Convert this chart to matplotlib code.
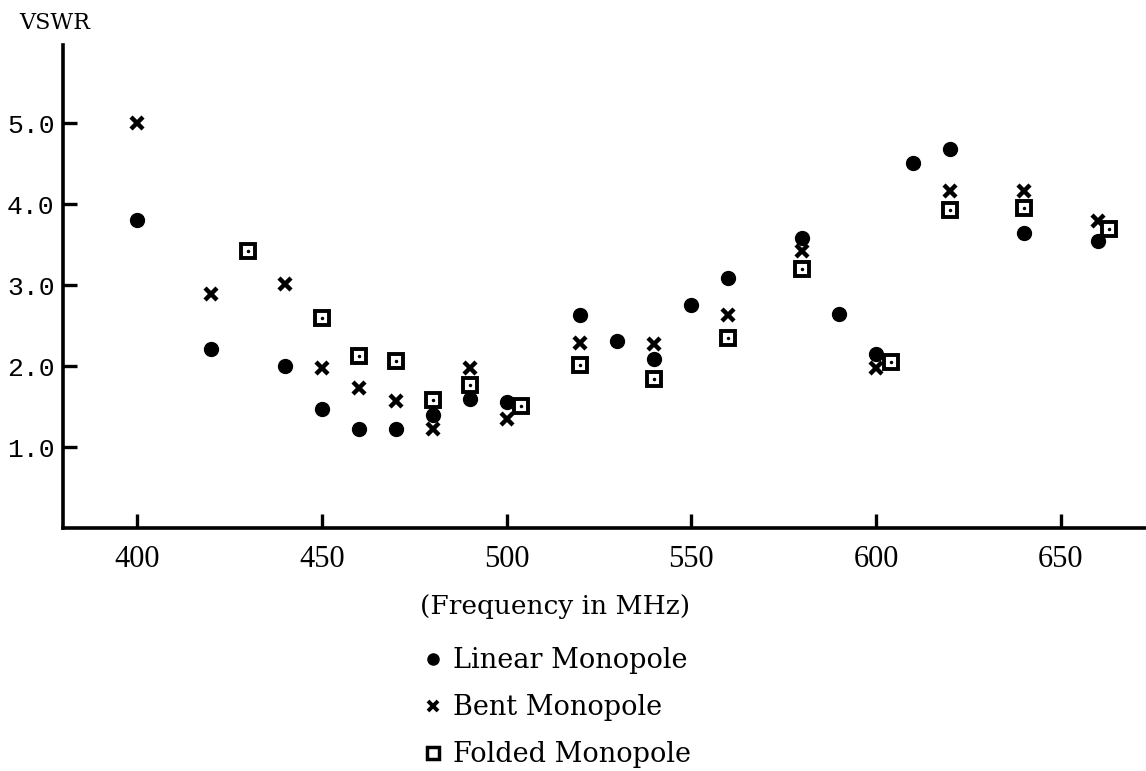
import matplotlib.pyplot as plt
from matplotlib.lines import Line2D

# VSWR vs frequency for three monopole types
linear_freq = [400, 420, 440, 450, 460, 470, 480, 490, 500, 520, 530, 540, 550,
               560, 580, 590, 600, 610, 620, 640, 660]
linear_vswr = [3.80, 2.21, 2.00, 1.47, 1.23, 1.23, 1.40, 1.60, 1.56, 2.63, 2.31,
               2.09, 2.76, 3.09, 3.58, 2.65, 2.15, 4.51, 4.68, 3.64, 3.54]

bent_freq = [400, 420, 440, 450, 460, 470, 480, 490, 500, 520, 540, 560, 580,
             600, 620, 640, 660]
bent_vswr = [5.00, 2.89, 3.01, 1.98, 1.73, 1.57, 1.23, 1.98, 1.35, 2.29, 2.27,
             2.63, 3.42, 1.98, 4.16, 4.16, 3.79]

folded_freq = [430, 450, 460, 470, 480, 490, 504, 520, 540, 560, 580, 604, 620,
               640, 663]
folded_vswr = [3.42, 2.60, 2.13, 2.06, 1.58, 1.77, 1.51, 2.01, 1.84, 2.35, 3.20,
               2.05, 3.93, 3.95, 3.70]

x_ticks = [400, 450, 500, 550, 600, 650]
y_ticks = [1.0, 2.0, 3.0, 4.0, 5.0]
y_ticklabels = ['1.0', '2.0', '3.0', '4.0', '5.0']

serif = 'DejaVu Serif'

fig = plt.figure(figsize=(11.46, 7.71), dpi=100)
ax = fig.add_axes([0.055, 0.315, 0.945, 0.626])

ax.plot(linear_freq, linear_vswr, 'o', color='black', markersize=10, zorder=3)
ax.plot(bent_freq, bent_vswr, 'x', color='black', markersize=9, mew=3.2, zorder=4)
ax.plot(folded_freq, folded_vswr, 's', markerfacecolor='white', markeredgecolor='black',
        markersize=10, mew=2.8, zorder=5)
ax.plot(folded_freq, folded_vswr, '.', color='black', markersize=3, zorder=6)

ax.set_xlim(380, 673)
ax.set_ylim(0, 5.96)

for side in ['top', 'right']:
    ax.spines[side].set_visible(False)
for side in ['left', 'bottom']:
    ax.spines[side].set_linewidth(2.6)

ax.set_xticks(x_ticks)
ax.set_xticklabels([str(t) for t in x_ticks], family='Liberation Serif', fontsize=22)
ax.set_yticks(y_ticks)
ax.set_yticklabels(y_ticklabels, family='Liberation Mono', fontsize=19)
ax.tick_params(axis='both', direction='in', length=10, width=2.4)
ax.tick_params(axis='x', pad=12)
ax.tick_params(axis='y', pad=6)

fig.text(0.017, 0.985, 'VSWR', family=serif, fontsize=16, va='top', ha='left')
fig.text(0.484, 0.214, '(Frequency in MHz)', family=serif, fontsize=19, ha='center', va='center')

handles = [
    Line2D([], [], linestyle='none', marker='o', color='black', markersize=8),
    Line2D([], [], linestyle='none', marker='x', color='black', markersize=7, mew=2.8),
    Line2D([], [], linestyle='none', marker='s', markerfacecolor='white',
           markeredgecolor='black', markersize=8, mew=2.5),
]
labels = ['Linear Monopole', 'Bent Monopole', 'Folded Monopole']
fig.legend(handles, labels, loc='upper left', bbox_to_anchor=(0.359, 0.178),
           frameon=False, prop={'family': serif, 'size': 19.5}, handlelength=0.6,
           handletextpad=0.45, labelspacing=0.74, borderpad=0)

fig.savefig('out.png', dpi=100)
